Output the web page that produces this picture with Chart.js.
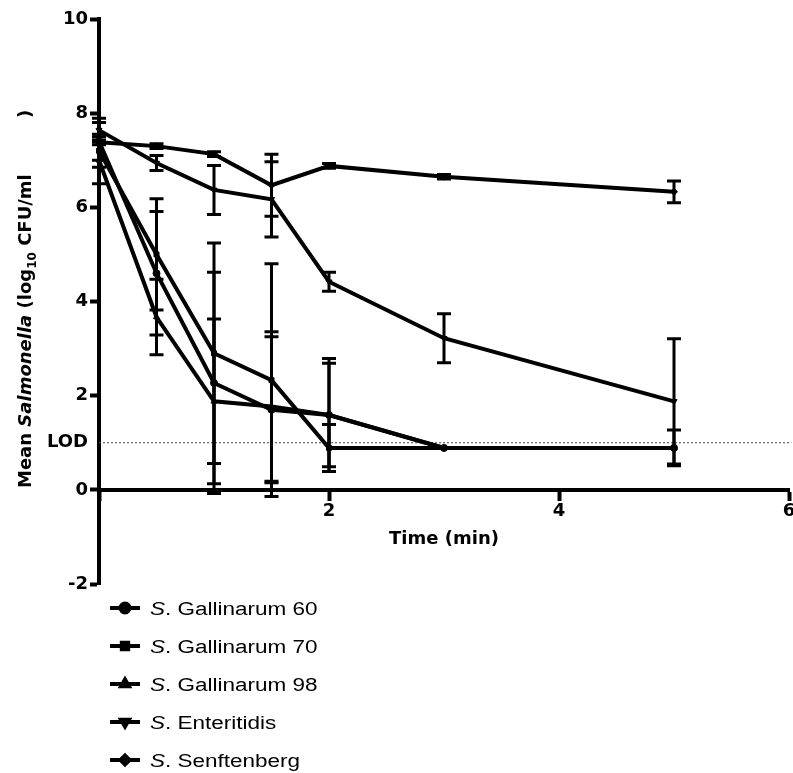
<!DOCTYPE html>
<html>
<head>
<meta charset="utf-8">
<script src="https://cdn.jsdelivr.net/npm/chart.js@4/dist/chart.umd.min.js"></script>
<style>
  html, body { margin: 0; padding: 0; background: #fff; overflow: hidden; }
  #wrap { width: 793px; height: 773px; overflow: hidden; }
</style>
</head>
<body>
<div id="wrap"><canvas id="chart" width="805" height="773"></canvas></div>
<script>
// time points (min)
const times = [0, 0.5, 1, 1.5, 2, 3, 5];

// mean log10 CFU/ml and SEM per strain
const g60 = [7.4, 4.6, 2.27, 1.7, 1.59, 0.89, 0.89];
const g60Err = [0.4, 1.31, 2.35, 1.55, 1.1, 0, 0];
const g70 = [7.2, 5.0, 2.9, 2.33, 0.89, 0.89, 0.89];
const g70Err = [0.35, 1.18, 2.34, 2.47, 0.5, 0, 0.38];
const g98 = [7.0, 3.67, 1.88, 1.77, 1.59, 0.89, 0.89];
const g98Err = [0.5, 0.8, 1.75, 1.59, 1.2, 0, 0];
const ent = [7.64, 6.94, 6.37, 6.17, 4.42, 3.22, 1.88];
const entErr = [0.25, 0.16, 0.52, 0.8, 0.2, 0.52, 1.33];
const sen = [7.38, 7.3, 7.13, 6.47, 6.88, 6.65, 6.33];
const senErr = [0.05, 0.05, 0.05, 0.66, 0.05, 0.05, 0.23];

const strainNames = ["S. Gallinarum 60", "S. Gallinarum 70", "S. Gallinarum 98", "S. Enteritidis", "S. Senftenberg"];
const lodValue = 1;
const xTicks = [0, 2, 4, 6];
const yTicks = [-2, 0, 1, 2, 4, 6, 8, 10];

const axisFont = { family: "'DejaVu Sans', sans-serif", size: 18, weight: "bold" };

function series(name, vals, errs, style, rot) {
  return {
    label: name,
    data: vals.map((v, i) => ({ x: times[i], y: v })),
    errors: errs,
    borderColor: "#000",
    backgroundColor: "#000",
    borderWidth: 4,
    pointStyle: style,
    pointRotation: rot || 0,
    pointRadius: 3.5,
    pointBorderWidth: 1,
    tension: 0,
    clip: false,
    order: 1,
  };
}

const datasets = [
  series(strainNames[0], g60, g60Err, "circle"),
  series(strainNames[1], g70, g70Err, "rect"),
  series(strainNames[2], g98, g98Err, "triangle"),
  series(strainNames[3], ent, entErr, "triangle", 180),
  series(strainNames[4], sen, senErr, "rectRot"),
  {
    label: "LOD",
    data: [{ x: 0, y: lodValue }, { x: 6.02, y: lodValue }],
    borderColor: "#444",
    borderWidth: 1,
    borderDash: [2, 2],
    pointRadius: 0,
    clip: false,
    order: 10,
    isLod: true,
  },
];

const errorBars = {
  id: "errorBars",
  afterDatasetsDraw(chart) {
    const ctx = chart.ctx;
    const xs = chart.scales.x, ys = chart.scales.y;
    ctx.save();
    ctx.strokeStyle = "#000";
    ctx.lineWidth = 3;
    chart.data.datasets.forEach((ds) => {
      if (!ds.errors) return;
      ds.data.forEach((p, i) => {
        const e = ds.errors[i];
        if (!e) return;
        const x = xs.getPixelForValue(p.x);
        const top = ys.getPixelForValue(p.y + e);
        const bot = ys.getPixelForValue(p.y - e);
        ctx.beginPath();
        ctx.moveTo(x, top); ctx.lineTo(x, bot);
        ctx.moveTo(x - 7, top); ctx.lineTo(x + 7, top);
        ctx.moveTo(x - 7, bot); ctx.lineTo(x + 7, bot);
        ctx.stroke();
      });
    });
    ctx.restore();
  },
};

const extras = {
  id: "extras",
  afterDraw(chart) {
    const ctx = chart.ctx;
    ctx.save();
    // y axis title
    ctx.translate(31, 488);
    ctx.rotate(-Math.PI / 2);
    ctx.fillStyle = "#000";
    ctx.textBaseline = "alphabetic";
    ctx.textAlign = "left";
    const fam = "'DejaVu Sans', sans-serif";
    const parts = [
      ["Mean ", "bold 18px " + fam, 0],
      ["Salmonella", "italic bold 18px " + fam, 0],
      [" (log", "bold 18px " + fam, 0],
      ["10", "bold 12px " + fam, 5],
      [" CFU/ml", "bold 18px " + fam, 0],
    ];
    let pos = 0;
    parts.forEach(([t, f, dy]) => {
      ctx.font = f;
      ctx.fillText(t, pos, dy);
      pos += ctx.measureText(t).width;
    });
    ctx.font = "bold 18px " + fam;
    ctx.fillText(")", 370, 0);
    ctx.restore();

    // legend
    ctx.save();
    chart.data.datasets.forEach((ds, i) => {
      if (ds.isLod) return;
      const y = 608 + i * 38;
      ctx.strokeStyle = "#000";
      ctx.fillStyle = "#000";
      ctx.lineWidth = 4;
      ctx.beginPath();
      ctx.moveTo(110, y); ctx.lineTo(140, y);
      ctx.stroke();
      Chart.helpers.drawPoint(ctx, {
        pointStyle: ds.pointStyle, radius: 4.5, rotation: ds.pointRotation, borderWidth: 1,
      }, 125, y);
      ctx.save();
      ctx.translate(150, y + 7);
      ctx.scale(1.25, 1);
      ctx.textBaseline = "alphabetic";
      ctx.textAlign = "left";
      ctx.font = "italic 18px 'Liberation Sans', Arial, sans-serif";
      ctx.fillText("S", 0, 0);
      let w = ctx.measureText("S").width;
      ctx.font = "18px 'Liberation Sans', Arial, sans-serif";
      ctx.fillText(ds.label.slice(1), w, 0);
      ctx.restore();
    });
    ctx.restore();
  },
};

new Chart(document.getElementById("chart"), {
  type: "line",
  data: { datasets },
  options: {
    responsive: false,
    animation: false,
    layout: { padding: { left: 0, right: 16, top: 19, bottom: 189 } },
    plugins: { legend: { display: false }, tooltip: { enabled: false } },
    scales: {
      x: {
        type: "linear",
        position: { y: 0 },
        min: 0,
        max: 6,
        afterBuildTicks: (s) => { s.ticks = xTicks.map((v) => ({ value: v })); },
        ticks: {
          color: "#000",
          font: axisFont,
          padding: 2,
          callback: (v) => (v === 0 ? "" : v),
        },
        grid: { drawOnChartArea: false, tickLength: 9, tickWidth: 4, tickColor: "#000" },
        border: { display: true, color: "#000", width: 4 },
        title: {
          display: true,
          text: "Time (min)",
          color: "#000",
          font: axisFont,
          padding: { top: 4 },
        },
      },
      y: {
        type: "linear",
        min: -2,
        max: 10,
        afterBuildTicks: (s) => { s.ticks = yTicks.map((v) => ({ value: v })); },
        afterFit: (s) => { s.width = 99; },
        ticks: {
          color: "#000",
          font: axisFont,
          padding: 2,
          callback: (v) => (v === lodValue ? "LOD" : v),
        },
        grid: {
          drawOnChartArea: false,
          tickLength: 9,
          tickWidth: 4,
          tickColor: (c) => (c.tick && c.tick.value === lodValue ? "rgba(0,0,0,0)" : "#000"),
        },
        border: { display: true, color: "#000", width: 4 },
      },
    },
  },
  plugins: [errorBars, extras],
});
</script>
</body>
</html>
